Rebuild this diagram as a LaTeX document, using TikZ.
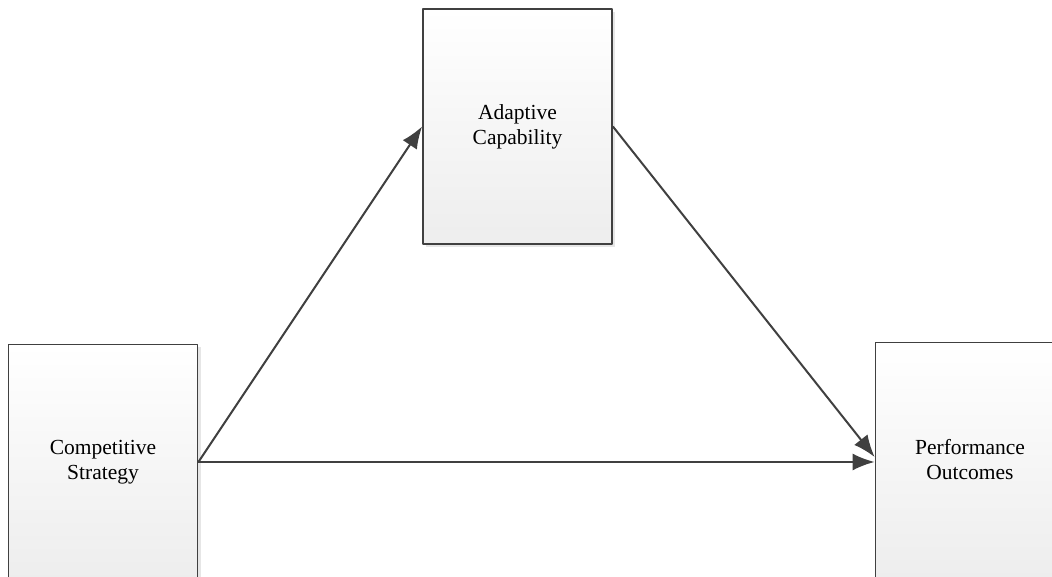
\documentclass[tikz,border=0pt]{standalone}
\usepackage{fontspec}
\setmainfont{Liberation Serif}
\usetikzlibrary{arrows.meta,shadows}
\definecolor{edgegray}{HTML}{404040}
\begin{document}
\begin{tikzpicture}[x=1pt, y=1pt, line join=round,
	box/.style={draw=edgegray, line width=1.8pt, top color=white, bottom color=black!7,
		minimum width=189pt, minimum height=235pt, align=center,
		font=\fontsize{21.5}{25}\selectfont,
		drop shadow={opacity=0.2, shadow xshift=3pt, shadow yshift=-3pt}},
	link/.style={draw=edgegray, line width=2pt,
		-{Latex[length=22pt, width=17pt, fill=edgegray]}}]
	\useasboundingbox (0,0) rectangle (1052,577);
	\clip (0,0) rectangle (1052,577);
	% boxes
	\node[box] (adapt) at (517.5,450.5) {Adaptive\\Capability};
	\node[box] (strat) at (103,115) {Competitive\\Strategy};
	\node[box] (perf) at (970,117) {Performance\\Outcomes};
	% arrows
	\draw[link] (strat.east) -- (adapt.west);
	\draw[link] (adapt.east) -- ([yshift=3pt]perf.west);
	\draw[link] (strat.east) -- (perf.west |- strat.east);
\end{tikzpicture}
\end{document}
